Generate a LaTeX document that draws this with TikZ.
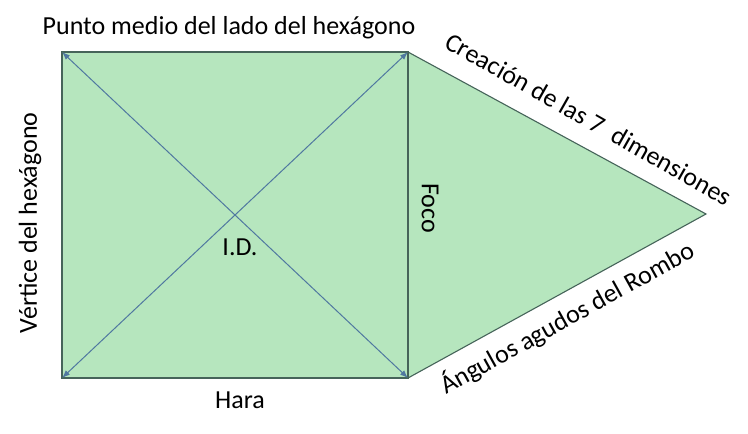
\documentclass[tikz,border=0pt]{standalone}
\usepackage{fontspec}
\setmainfont{Carlito}
\usetikzlibrary{arrows.meta}
\definecolor{fillgreen}{RGB}{182,230,190}
\definecolor{edgegray}{RGB}{70,100,90}
\definecolor{diagblue}{RGB}{80,120,160}
\begin{document}
\begin{tikzpicture}[x=1pt,y=-1pt,
  lbl/.style={font=\fontsize{26}{30}\selectfont, inner sep=0pt},
  diag/.style={draw=diagblue, line width=1pt, {Latex[length=8pt,width=6pt]}-{Latex[length=8pt,width=6pt]}},
  edge/.style={draw=edgegray, line width=1.1pt}]
\useasboundingbox (0,0) rectangle (748,434);
\coordinate (TL) at (62,52);
\coordinate (TR) at (408,52);
\coordinate (BR) at (408,378);
\coordinate (BL) at (62,378);
\coordinate (AP) at (706,214);
\fill[fillgreen] (TL) -- (TR) -- (AP) -- (BR) -- (BL) -- cycle;
\draw[edge] (TL) rectangle (BR);
\draw[edge] (TR) -- (AP) -- (BR);
\draw[diag] (TL) -- (BR);
\draw[diag] (BL) -- (TR);
\node[lbl] (top) at (229,28) {Punto medio del lado del hexágono};
\node[lbl, rotate=90] (left) at (30,223) {Vértice del hexágono};
\node[lbl] (bot) at (240,400) {Hara};
\node[lbl, rotate=-90] (foco) at (430,208) {Foco};
\node[lbl] (id) at (240,247) {I.D.};
\node[lbl, rotate=-29.5] (crea) at (589,119) {Creación de las 7\ \ dimensiones};
\node[lbl, rotate=29] (ang) at (567,318) {Ángulos agudos del Rombo};
\end{tikzpicture}
\end{document}
